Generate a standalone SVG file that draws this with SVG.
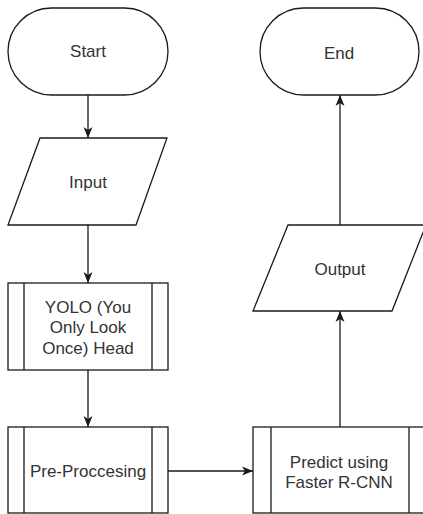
<svg xmlns="http://www.w3.org/2000/svg" width="423" height="514" viewBox="0 0 423 514">
<defs>
<style>
.s{fill:#fff;stroke:#1a1a1a;stroke-width:1.3}
.t{font-family:"Liberation Sans",Arial,sans-serif;font-size:17px;fill:#333;text-anchor:middle}
.c{fill:none;stroke:#1a1a1a;stroke-width:1.3}
</style>
<marker id="ah" markerUnits="userSpaceOnUse" markerWidth="12" markerHeight="10" viewBox="0 0 12 10" refX="11" refY="5" orient="auto">
<path d="M0,0.5 L11,5 L0,9.5 L3,5 Z" fill="#1a1a1a"/>
</marker>
</defs>
<rect width="423" height="514" fill="#fff"/>
<g id="connectors">
<line class="c" x1="88" y1="95" x2="88" y2="138" marker-end="url(#ah)"/>
<line class="c" x1="88" y1="225" x2="88" y2="283" marker-end="url(#ah)"/>
<line class="c" x1="88" y1="370" x2="88" y2="427" marker-end="url(#ah)"/>
<line class="c" x1="168" y1="471" x2="253" y2="471" marker-end="url(#ah)"/>
<line class="c" x1="340" y1="427" x2="340" y2="311" marker-end="url(#ah)"/>
<line class="c" x1="340" y1="225" x2="340" y2="95" marker-end="url(#ah)"/>
</g>
<g id="start">
<rect class="s" x="8" y="8" width="160" height="87" rx="43.5" ry="43.5"/>
<text class="t" x="88" y="57">Start</text>
</g>
<g id="input">
<polygon class="s" points="40,138 167,138 136,225 8,225"/>
<text class="t" x="88" y="188">Input</text>
</g>
<g id="yolo">
<rect class="s" x="8" y="283" width="160" height="87"/>
<line class="s" x1="24" y1="283" x2="24" y2="370"/>
<line class="s" x1="152" y1="283" x2="152" y2="370"/>
<text class="t" x="88" y="313">YOLO (You</text>
<text class="t" x="88" y="333">Only Look</text>
<text class="t" x="88" y="354">Once) Head</text>
</g>
<g id="preprocessing">
<rect class="s" x="8" y="427" width="160" height="86"/>
<line class="s" x1="24" y1="427" x2="24" y2="513"/>
<line class="s" x1="152" y1="427" x2="152" y2="513"/>
<text class="t" x="88" y="477">Pre-Proccesing</text>
</g>
<g id="predict">
<rect class="s" x="253" y="427" width="174" height="86"/>
<line class="s" x1="271" y1="427" x2="271" y2="513"/>
<line class="s" x1="409" y1="427" x2="409" y2="513"/>
<text class="t" x="339" y="468">Predict using</text>
<text class="t" x="339" y="488">Faster R-CNN</text>
</g>
<g id="output">
<polygon class="s" points="288,225 426,225 392,311 253,311"/>
<text class="t" x="340" y="275">Output</text>
</g>
<g id="end">
<rect class="s" x="260" y="8" width="159" height="87" rx="43.5" ry="43.5"/>
<text class="t" x="339" y="59">End</text>
</g>
</svg>
